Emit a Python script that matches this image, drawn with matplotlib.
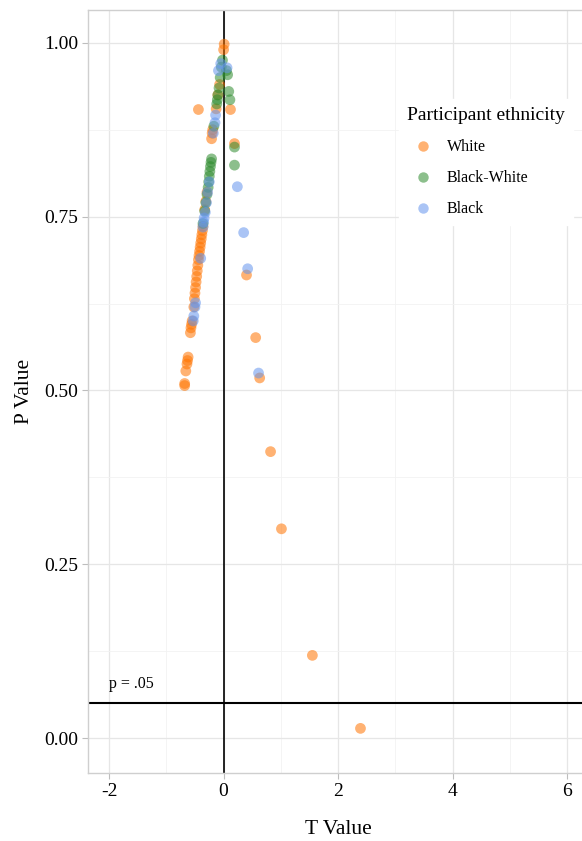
import numpy as np
import matplotlib.pyplot as plt
from matplotlib.lines import Line2D
from matplotlib.ticker import MultipleLocator

plt.rcParams['font.family'] = ['Liberation Serif', 'DejaVu Serif']

# t / p values per group
t_white = [-0.68, -0.68, -0.66, -0.64, -0.63, -0.62, -0.58, -0.57, -0.56, -0.55,
           -0.52, -0.51, -0.50, -0.49, -0.48, -0.47, -0.46, -0.45, -0.44, -0.43,
           -0.42, -0.41, -0.40, -0.39, -0.38, -0.37, -0.36, -0.33, -0.31, -0.29,
           -0.21, -0.20, -0.19, -0.13, -0.10, -0.07, 0.00, 0.01,
           -0.44, 0.12, 0.19, 0.40, 0.56, 0.63, 0.82, 1.01, 1.55, 2.39]
p_white = [0.507, 0.510, 0.528, 0.538, 0.543, 0.548, 0.583, 0.590, 0.595, 0.600,
           0.620, 0.632, 0.640, 0.648, 0.656, 0.664, 0.672, 0.680, 0.688, 0.694,
           0.700, 0.706, 0.712, 0.718, 0.724, 0.730, 0.736, 0.760, 0.772, 0.785,
           0.862, 0.870, 0.875, 0.905, 0.925, 0.940, 0.990, 0.998,
           0.904, 0.904, 0.855, 0.666, 0.576, 0.518, 0.412, 0.301, 0.119, 0.014]

t_bw = [-0.36, -0.33, -0.31, -0.29, -0.27, -0.26, -0.25, -0.24, -0.23, -0.22,
        -0.21, -0.17, -0.12, -0.11, -0.10, -0.08, -0.06, -0.04, -0.02,
        0.05, 0.07, 0.09, 0.11, 0.19, 0.19]
p_bw = [0.740, 0.758, 0.770, 0.782, 0.792, 0.800, 0.808, 0.815, 0.822, 0.828,
        0.833, 0.880, 0.912, 0.918, 0.925, 0.935, 0.950, 0.965, 0.975,
        0.960, 0.954, 0.930, 0.918, 0.850, 0.824]

t_black = [-0.53, -0.52, -0.50, -0.49, -0.40, -0.36, -0.35, -0.34, -0.32, -0.30,
           -0.28, -0.25, -0.18, -0.15, -0.14, -0.09, -0.05, 0.06,
           0.24, 0.35, 0.42, 0.61]
p_black = [0.600, 0.607, 0.620, 0.626, 0.690, 0.735, 0.742, 0.748, 0.756, 0.770,
           0.785, 0.800, 0.870, 0.885, 0.896, 0.960, 0.970, 0.964,
           0.793, 0.727, 0.675, 0.525]

groups = ['White', 'Black-White', 'Black']
colors = ['#ff7400', '#2e8b2e', '#6495ed']

fig = plt.figure(figsize=(5.82, 8.41), dpi=100)
# panel runs past the right edge of the picture, as in the original crop
ax = fig.add_axes([0.151, 0.081, 0.86, 0.907])

for t, p, c in zip([t_white, t_bw, t_black], [p_white, p_bw, p_black], colors):
    ax.scatter(t, p, s=60, color=c, alpha=0.55, edgecolors='none', zorder=3)

ax.axvline(0, color='black', lw=1.2, zorder=2)
ax.axhline(0.05, color='black', lw=1.5, zorder=2)
ax.text(-2, 0.066, 'p = .05', fontsize=11.5, ha='left', va='bottom')

ax.set_xlim(-2.37, 6.37)
ax.set_ylim(-0.05, 1.047)
ax.xaxis.set_minor_locator(MultipleLocator(1))
ax.yaxis.set_minor_locator(MultipleLocator(0.125))
ax.set_yticks([0, 0.25, 0.5, 0.75, 1.0])
ax.set_yticklabels(['0.00', '0.25', '0.50', '0.75', '1.00'])
ax.set_xticks([-2, 0, 2, 4, 6])
ax.set_xticklabels(['-2', '0', '2', '4', '6'])

ax.grid(which='major', color='#e6e6e6', lw=0.9, zorder=0)
ax.grid(which='minor', color='#f2f2f2', lw=0.6, zorder=0)
ax.set_axisbelow(True)
for s in ax.spines.values():
    s.set_color('#cfcfcf')
    s.set_linewidth(1.0)
ax.spines['right'].set_visible(False)
ax.tick_params(which='major', length=4, color='#bdbdbd', labelsize=14, pad=3)
ax.tick_params(which='minor', length=0)

ax.set_xlabel('T Value', fontsize=15.5, labelpad=15)
ax.set_ylabel('P Value', fontsize=15.5, labelpad=7)

handles = [Line2D([], [], ls='none', marker='o', markersize=7.5, color=c,
                  alpha=0.55, markeredgewidth=0) for c in colors]
leg = ax.legend(handles, groups, title='Participant ethnicity', loc='upper left',
                bbox_to_anchor=(0.605, 0.894), frameon=True, fontsize=11.5,
                title_fontsize=14, labelspacing=0.95, handletextpad=0.5,
                borderpad=0.5, fancybox=False)
leg.get_frame().set_edgecolor('white')
leg.get_frame().set_facecolor('white')
leg.get_frame().set_alpha(1)
leg._legend_box.align = 'left'

fig.savefig('out.png', dpi=100)
